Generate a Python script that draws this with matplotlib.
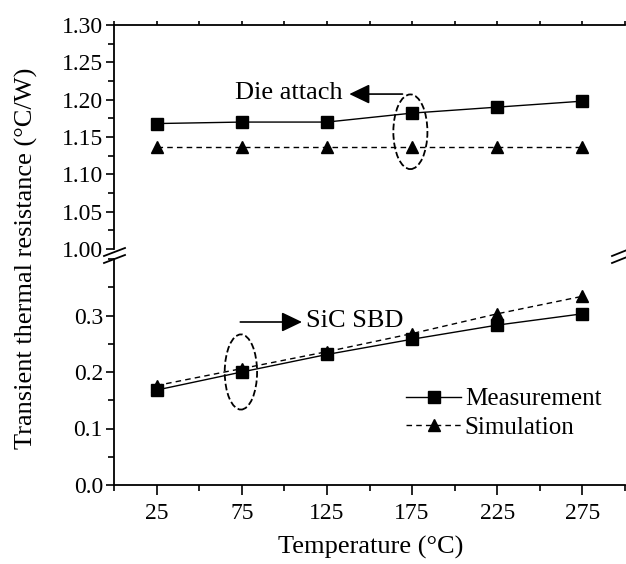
import matplotlib
matplotlib.use("Agg")
import matplotlib.pyplot as plt
from matplotlib.patches import Ellipse
from matplotlib.lines import Line2D
import numpy as np

plt.rcParams['font.family'] = ['Liberation Serif', 'DejaVu Serif']
plt.rcParams['mathtext.fontset'] = 'stix'

temps = [25, 75, 125, 175, 225, 275]
die_meas = [1.168, 1.170, 1.170, 1.182, 1.190, 1.198]
die_sim = [1.137, 1.137, 1.137, 1.137, 1.137, 1.137]
sbd_meas = [0.168, 0.200, 0.231, 0.258, 0.283, 0.303]
sbd_sim = [0.176, 0.206, 0.236, 0.268, 0.303, 0.334]
xticks = [25, 75, 125, 175, 225, 275]
top_yticks = [1.00, 1.05, 1.10, 1.15, 1.20, 1.25, 1.30]
bot_yticks = [0.0, 0.1, 0.2, 0.3]

W, H = 626, 564
fig = plt.figure(figsize=(W/100, H/100), dpi=100)

def fx(px):
    return px / W

def fy(py):
    return 1 - py / H

left, right = 114, 625
ax_top = fig.add_axes([fx(left), fy(249), fx(right) - fx(left), fy(25) - fy(249)])
ax_bot = fig.add_axes([fx(left), fy(485), fx(right) - fx(left), fy(259) - fy(485)])

tfs = 17   # tick labels
lfs = 19   # axis labels / annotations
gfs = 18   # legend
for ax in (ax_top, ax_bot):
    ax.set_xlim(0, 300)
    ax.spines['right'].set_visible(False)
    for s in ax.spines.values():
        s.set_linewidth(1.3)
    ax.tick_params(axis='both', which='both', direction='out', width=1.2, labelsize=tfs)
    ax.tick_params(axis='both', which='major', length=6)
    ax.tick_params(axis='both', which='minor', length=4)
    ax.set_xticks(xticks)
    ax.set_xticks(np.arange(0, 301, 50), minor=True)

# top panel
ax_top.plot(temps, die_meas, '-', color='black', lw=1, marker='s', ms=8)
ax_top.plot(temps, die_sim, '--', color='black', lw=1, marker='^', ms=9, dashes=(4, 3))
ax_top.set_ylim(1.00, 1.30)
ax_top.set_yticks(top_yticks)
ax_top.set_yticklabels([f"{v:.2f}" for v in top_yticks])
ax_top.set_yticks(np.arange(1.0, 1.301, 0.025), minor=True)
ax_top.spines['bottom'].set_visible(False)
ax_top.tick_params(axis='x', which='both', bottom=False, labelbottom=False, top=True, labeltop=False)
ax_top.tick_params(axis='x', which='both', length=3)
ax_top.tick_params(axis='y', which='major', pad=2)

# bottom panel
ax_bot.plot(temps, sbd_meas, '-', color='black', lw=1, marker='s', ms=8, label='Measurement')
ax_bot.plot(temps, sbd_sim, '--', color='black', lw=1, marker='^', ms=9, dashes=(4, 3), label='Simulation')
ax_bot.set_ylim(0.0, 0.4)
ax_bot.set_yticks(bot_yticks)
ax_bot.set_yticklabels([f"{v:.1f}" for v in bot_yticks])
ax_bot.set_yticks(np.arange(0.0, 0.401, 0.05), minor=True)
ax_bot.spines['top'].set_visible(False)
ax_bot.tick_params(axis='x', which='major', length=7, pad=6)
ax_bot.tick_params(axis='y', which='major', pad=2)

fig.text(fx(371), fy(547), 'Temperature (°C)', fontsize=lfs, ha='center', va='center')
fig.text(fx(26), fy(258), 'Transient thermal resistance (°C/W)', rotation=90,
         fontsize=lfs, ha='center', va='center')

leg = ax_bot.legend(loc='center left', bbox_to_anchor=((406 - left) / (right - left), 0.316),
                    frameon=False, fontsize=gfs, handlelength=2.2, handletextpad=0.15,
                    labelspacing=0.25, borderaxespad=0, borderpad=0)

arrow_style = dict(arrowstyle='-|>,head_length=1.25,head_width=0.6', color='black', lw=1.2)

# annotations: die attach
ax_top.add_patch(Ellipse((174, 1.157), 20, 0.1, fill=False, ls='--', lw=1.3, ec='black'))
ax_top.annotate('', xy=(136.5, 1.2075), xytext=(171, 1.2075), arrowprops=arrow_style)
ax_top.text(134, 1.2095, 'Die attach', fontsize=lfs, ha='right', va='center')

# annotations: SiC SBD
ax_bot.add_patch(Ellipse((74.5, 0.2), 19, 0.133, fill=False, ls='--', lw=1.3, ec='black'))
ax_bot.annotate('', xy=(112, 0.2885), xytext=(72.5, 0.2885), arrowprops=arrow_style)
ax_bot.text(113, 0.2905, 'SiC SBD', fontsize=lfs, ha='left', va='center')

# axis break marks
for (x0, x1) in [(104, 125), (612, 632)]:
    for dy in (0, 7):
        fig.add_artist(Line2D([fx(x0), fx(x1)], [fy(256 + dy), fy(248 + dy)],
                              color='black', lw=1.3, transform=fig.transFigure))

fig.savefig('out.png', dpi=100)
